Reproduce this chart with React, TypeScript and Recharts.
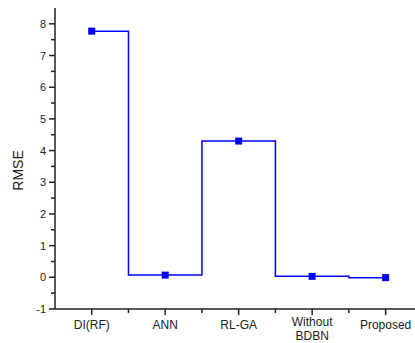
import { LineChart, Line, XAxis, YAxis } from "recharts";

const methods = ["DI(RF)", "ANN", "RL-GA", "Without BDBN", "Proposed"];
const rmse = [7.77, 0.07, 4.3, 0.03, -0.01];
const yMajor = [-1, 0, 1, 2, 3, 4, 5, 6, 7, 8];
const xMajor = [1, 2, 3, 4, 5];

const data = methods.map((m, i) => ({ pos: xMajor[i], name: m, rmse: rmse[i] }));

// half-step minor ticks between the labelled ones
const yTicks = yMajor.flatMap((v, i) => (i < yMajor.length - 1 ? [v, v + 0.5] : [v]));
const xTicks = xMajor.flatMap((v, i) => (i < xMajor.length - 1 ? [v, v + 0.5] : [v]));

const FONT = "'Liberation Sans', Arial, sans-serif";
const INK = "#222";

const XTick = (props: any) => {
  const { x, y, payload } = props;
  const v = payload.value;
  const major = Number.isInteger(v);
  const lines = major ? methods[xMajor.indexOf(v)].split(" ") : [];
  // two-line labels sit a bit higher so the second line stays on the page
  const first = lines.length > 1 ? 17 : 20;
  return (
    <g>
      <line x1={x} x2={x} y1={y} y2={y + (major ? 6 : 4)} stroke={INK} strokeWidth={1.5} />
      {lines.map((t, i) => (
        <text key={i} x={x} y={y + first + i * 14} textAnchor="middle" fontSize={12} fontFamily={FONT} fill={INK}>
          {t}
        </text>
      ))}
    </g>
  );
};

const YTick = (props: any) => {
  const { x, y, payload } = props;
  const v = payload.value;
  const major = Number.isInteger(v);
  return (
    <g>
      <line x1={x} x2={x - (major ? 6 : 4)} y1={y} y2={y} stroke={INK} strokeWidth={1.5} />
      {major && (
        <text x={x - 9} y={y + 4} textAnchor="end" fontSize={11} fontFamily={FONT} fill={INK}>
          {v}
        </text>
      )}
    </g>
  );
};

const Square = (props: any) => {
  const { cx, cy, index } = props;
  return <rect key={index} x={cx - 3.5} y={cy - 3.5} width={7} height={7} fill="#0000FF" />;
};

export default function App() {
  return (
    <div style={{ position: "absolute", left: 0, top: 0, width: 415, height: 343, background: "#fff" }}>
      <LineChart width={415} height={343} data={data} margin={{ top: 8, right: 0, bottom: 0, left: 0 }}>
        <XAxis
          dataKey="pos"
          type="number"
          domain={[0.5, 5.4]}
          ticks={xTicks}
          interval={0}
          height={34}
          tickSize={0}
          tickMargin={0}
          tickLine={false}
          tick={<XTick />}
          axisLine={{ stroke: INK, strokeWidth: 1.5 }}
        />
        <YAxis
          type="number"
          domain={[-1, 8.5]}
          ticks={yTicks}
          interval={0}
          width={55}
          tickSize={0}
          tickMargin={0}
          tickLine={false}
          tick={<YTick />}
          axisLine={{ stroke: INK, strokeWidth: 1.5 }}
          label={{
            content: (p: any) => {
              const vb = p.viewBox;
              const cx = vb.x + 18;
              const cy = vb.y + vb.height / 2 + 12;
              return (
                <text x={cx} y={cy} transform={`rotate(-90 ${cx} ${cy})`} textAnchor="middle" dominantBaseline="central" fontSize={14} fontFamily={FONT} fill={INK}>
                  RMSE
                </text>
              );
            },
          }}
        />
        <Line
          type="step"
          dataKey="rmse"
          stroke="#0000FF"
          strokeWidth={1.5}
          dot={<Square />}
          activeDot={false}
          isAnimationActive={false}
        />
      </LineChart>
    </div>
  );
}
